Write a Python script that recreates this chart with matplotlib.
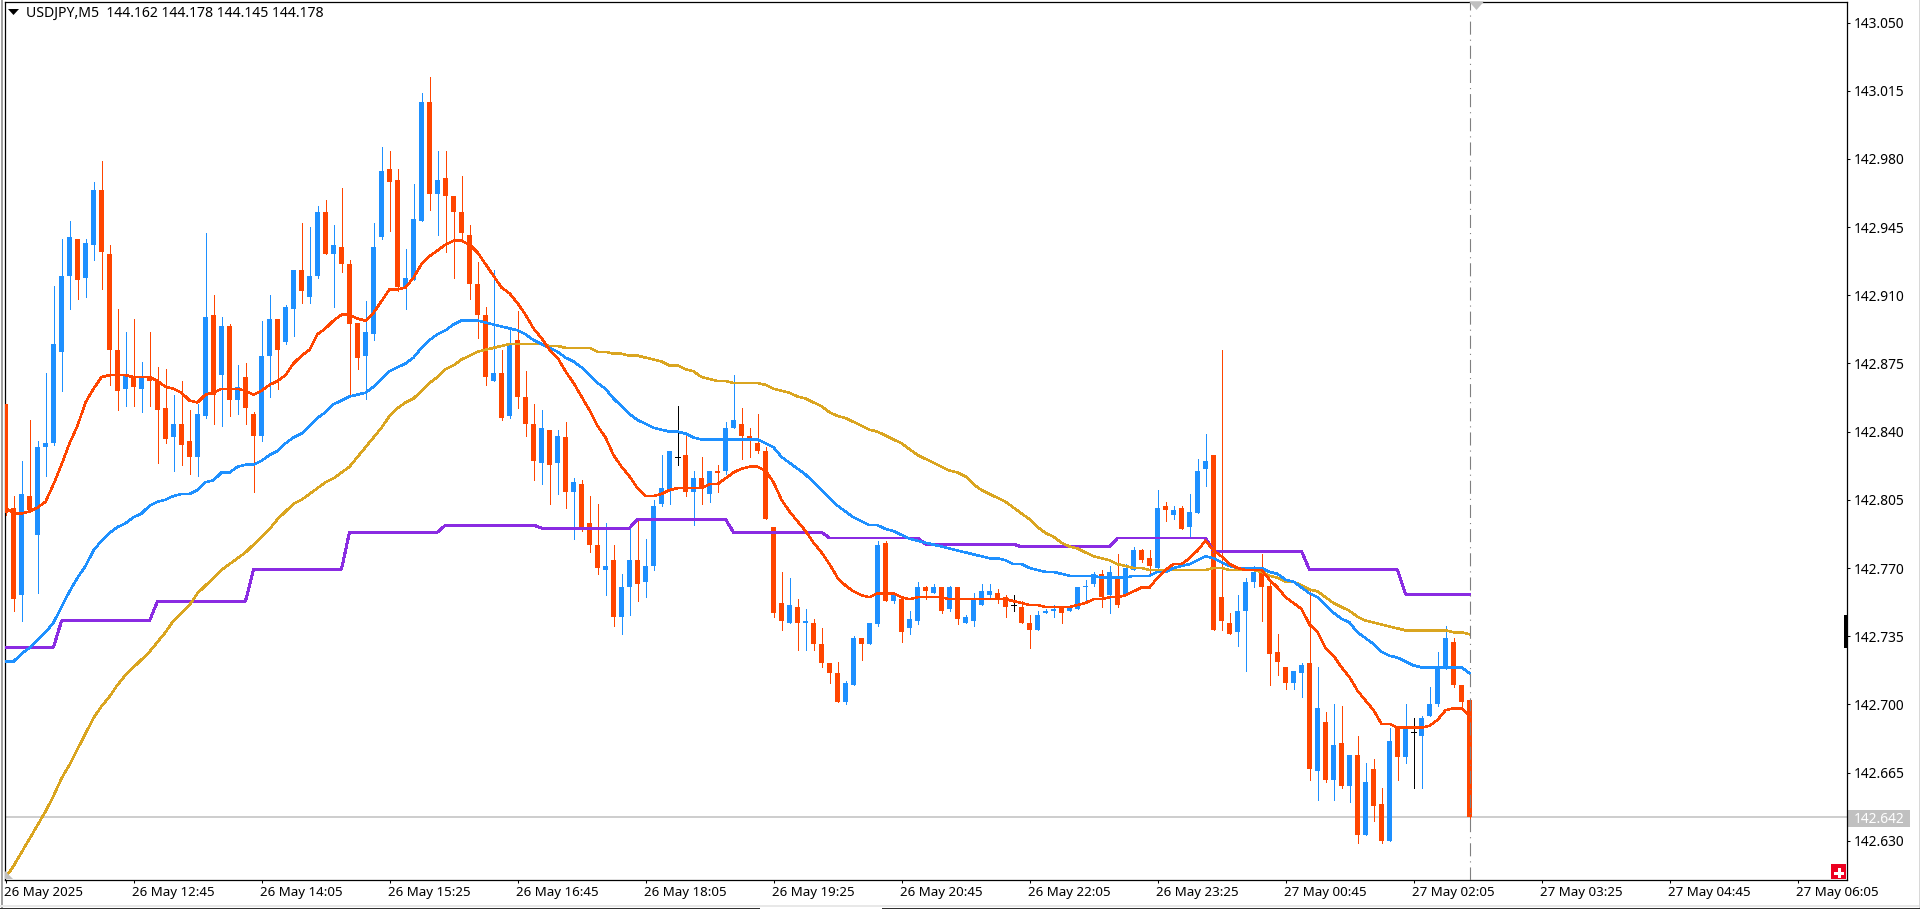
import numpy as np
import matplotlib
matplotlib.use("Agg")
import matplotlib.pyplot as plt
from matplotlib.lines import Line2D
from matplotlib.patches import Polygon, Rectangle
from matplotlib.transforms import ScaledTranslation

# USDJPY M5 candles, prices in thousandths above 142.000
highs = [854,807,825,846,835,870,915,939,948,939,
    939,968,979,936,903,891,898,876,891,873,
    872,859,866,851,854,942,910,899,895,874,
    875,850,897,910,898,905,923,947,945,956,
    959,946,965,928,896,907,947,986,984,975,
    934,967,1014,1022,984,984,961,971,946,927,
    904,923,882,893,902,871,854,851,841,841,
    845,816,815,807,803,793,782,767,790,794,
    785,805,828,830,853,838,820,827,820,823,
    845,869,852,842,849,832,791,768,765,754,
    749,744,739,721,722,712,735,734,742,784,
    784,756,754,748,763,761,762,760,761,760,
    746,757,762,762,759,756,756,753,746,748,
    749,751,750,750,760,764,768,769,771,777,
    772,781,780,779,810,804,802,802,808,826,
    839,828,882,747,756,765,771,777,763,736,
    719,717,721,758,719,696,700,699,674,684,
    670,672,657,688,689,700,693,694,709,727,
    740,734,710,702]
lows = [797,748,743,799,757,817,833,861,903,908,
    909,928,913,864,851,853,853,850,853,824,
    834,820,823,818,817,847,844,843,848,849,
    844,809,835,858,862,885,889,906,906,919,
    931,904,922,858,872,857,887,939,943,912,
    903,918,948,954,941,932,919,939,908,888,
    864,866,846,847,852,838,815,813,803,808,
    801,785,789,778,767,756,740,736,746,753,
    755,769,802,803,823,807,792,803,804,809,
    818,842,826,827,829,795,745,738,742,728,
    728,728,719,711,701,700,710,723,731,740,
    753,752,732,736,741,754,757,747,748,741,
    742,740,751,754,752,745,748,742,729,738,
    747,745,742,748,749,752,761,750,747,750,
    756,769,773,767,770,794,795,790,786,798,
    812,738,738,736,730,717,760,743,710,715,
    708,708,704,661,651,660,651,657,650,629,
    633,640,629,630,661,670,657,657,694,699,
    718,709,698,638]
opens = [854,801,756,807,787,832,834,881,920,939,
    919,936,964,931,882,862,868,862,868,866,
    852,837,844,835,827,848,900,869,894,856,
    868,849,838,879,898,886,903,923,909,920,
    953,931,935,926,896,879,890,940,975,969,
    914,918,948,1009,962,970,961,953,941,916,
    900,866,870,848,887,858,844,824,841,824,
    837,809,813,793,782,769,774,745,760,774,
    763,771,803,810,827,828,809,816,808,820,
    820,842,844,838,834,830,791,752,742,750,
    742,742,731,721,716,701,710,734,731,741,
    783,753,754,739,743,760,757,760,749,760,
    742,743,751,756,757,755,751,750,742,738,
    747,748,750,748,749,760,762,767,756,765,
    756,769,779,775,770,802,797,801,791,798,
    821,828,755,742,737,748,763,770,761,727,
    719,711,716,721,666,691,661,680,658,674,
    633,667,649,630,688,673,686,684,694,700,
    719,732,710,702]
closes = [798,754,808,800,832,834,885,920,940,918,
    937,964,932,882,861,869,863,868,866,851,
    836,844,833,827,849,899,859,894,856,863,
    852,838,879,898,882,904,923,912,920,953,
    931,936,926,895,878,891,935,974,968,914,
    919,949,1009,962,969,961,953,942,916,900,
    868,870,847,885,858,844,825,842,823,838,
    809,814,790,782,770,771,745,760,774,762,
    771,802,811,830,827,809,816,811,820,819,
    842,846,838,835,830,795,747,743,751,742,
    743,731,721,716,701,711,734,731,742,782,
    753,756,737,744,760,758,760,748,760,744,
    745,754,758,758,754,750,751,742,738,746,
    748,749,747,750,760,761,767,755,768,751,
    770,779,774,771,801,800,800,790,799,820,
    825,738,743,736,748,763,768,760,726,722,
    711,717,720,667,698,661,679,658,674,633,
    660,648,630,681,673,688,686,693,700,719,
    734,710,701,642]

# moving averages, same units
fast_ma = [801,798,798,799,801,804,813,823,834,843,
    855,862,868,869,869,869,868,868,868,866,
    863,862,860,856,855,859,860,862,862,862,
    861,859,861,864,866,869,875,879,882,890,
    893,897,900,900,898,897,901,907,913,913,
    914,919,926,930,933,936,938,938,936,932,
    926,920,914,911,906,900,893,888,882,878,
    871,865,858,851,843,837,828,822,817,811,
    807,807,808,810,811,811,811,811,813,813,
    816,819,821,822,822,820,814,805,799,794,
    789,783,778,772,765,761,758,756,755,757,
    757,757,755,754,755,755,755,755,754,754,
    754,754,754,754,754,754,753,752,751,751,
    750,750,750,750,751,752,754,754,755,755,
    756,758,760,760,765,769,772,772,775,779,
    784,779,776,772,770,769,769,769,764,760,
    755,752,749,741,737,729,725,719,714,707,
    702,697,690,690,688,688,688,688,689,692,
    697,698,698,694]
mid_ma = [722,722,726,729,733,737,742,750,758,765,
    771,779,784,788,791,793,796,798,802,804,
    805,807,808,808,810,814,815,819,819,822,
    823,823,825,828,830,834,837,839,843,847,
    850,854,856,858,859,860,863,867,871,873,
    875,878,883,887,890,892,895,897,897,897,
    896,895,894,893,892,890,887,885,883,881,
    878,876,873,869,865,862,857,853,849,846,
    844,842,841,840,840,839,837,836,836,836,
    836,836,836,836,836,834,832,827,824,821,
    818,814,810,806,802,799,796,794,792,792,
    790,789,787,785,784,783,782,781,780,779,
    778,777,776,775,775,774,772,772,770,769,
    768,768,767,766,766,766,766,765,765,765,
    765,766,766,766,768,768,770,771,772,774,
    776,775,773,771,770,770,770,770,768,767,
    764,763,760,757,755,751,747,744,742,737,
    734,731,727,725,724,722,720,719,719,719,
    719,719,719,716]
slow_ma = [611,617,624,631,638,645,653,662,669,677,
    685,693,699,704,710,715,719,723,727,732,
    737,743,747,751,757,761,765,769,772,775,
    778,782,786,790,795,799,803,805,808,811,
    814,816,819,822,827,832,837,842,848,852,
    855,857,861,865,868,872,874,877,879,881,
    882,883,884,885,885,885,885,885,884,884,
    883,883,883,883,881,881,880,880,879,879,
    878,877,876,874,874,872,871,868,867,866,
    866,865,865,865,865,864,862,861,860,858,
    857,855,853,850,848,847,845,843,841,840,
    838,836,834,831,828,826,824,822,820,819,
    817,813,810,808,806,804,801,798,795,791,
    788,786,783,781,780,778,776,775,774,772,
    771,770,770,769,769,769,769,769,769,769,
    769,770,770,769,769,769,769,768,766,765,
    763,763,761,759,758,755,752,750,748,745,
    743,742,741,740,739,738,738,738,738,738,
    738,737,737,736]

# higher timeframe average, flat between steps
step_bars = [0,6,7,18,19,30,31,42,43,54,55,66,67,78,79,90,91,102,103,114,115,126,127,138,139,150,151,162,163,174,175,183]
step_ma = [729.4,729.4,742.8,742.8,753,753,769.4,769.4,788.4,788.4,792,792,790.5,790.5,795,795,
    788.4,788.4,785.4,785.4,782.3,782.3,780.8,780.8,785.4,785.4,778.7,778.7,769,769,756.6,756.6]

tick_prices = [142.630,142.665,142.700,142.735,142.770,142.805,142.840,142.875,142.910,142.945,142.980,143.015,143.050]
time_labels = ["26 May 2025","26 May 12:45","26 May 14:05","26 May 15:25","26 May 16:45","26 May 18:05",
    "26 May 19:25","26 May 20:45","26 May 22:05","26 May 23:25","27 May 00:45","27 May 02:05",
    "27 May 03:25","27 May 04:45","27 May 06:05"]
bid_price = 142.642
header = "USDJPY,M5  144.162 144.178 144.145 144.178"

UP = "#1E90FF"
DOWN = "#FF4500"
FONT = "Noto Sans"
W, H = 1920, 910

plt.rcParams["lines.scale_dashes"] = False
plt.rcParams["font.family"] = FONT

def to_price(a):
    return np.array(a) / 1000 + 142

def fx(x):
    return x / W

def fy(y):
    return 1 - y / H

fig = plt.figure(figsize=(W / 100, H / 100), dpi=100, facecolor="white")
ax = fig.add_axes([fx(4.5), fy(879.5), fx(1842), 878 / H])
# 8 px per bar, bar centres on pixel centres
ax.set_xlim(-0.125, 230.125)
ax.set_ylim(142.6101, 143.0608)

o, h, l, c = to_price(opens), to_price(highs), to_price(lows), to_price(closes)
bars = np.arange(len(o))
colors = np.where(c > o, UP, np.where(c < o, DOWN, "black"))

ax.axhline(bid_price, color="#C0C0C0", lw=1.1, zorder=1)
ax.vlines(bars, l, h, colors=colors, lw=0.72, antialiased=False, zorder=2)
ax.bar(bars, np.abs(c - o), bottom=np.minimum(o, c), width=5 / 8, color=colors, linewidth=0,
       antialiased=False, zorder=3)
doji = c == o
ax.hlines(c[doji], bars[doji] - 0.3, bars[doji] + 0.3, colors="black", lw=0.72, antialiased=False, zorder=3)

ax.plot(step_bars, to_price(step_ma), color="#8A2BE2", lw=1.44, antialiased=False, zorder=4)
ax.plot(bars, to_price(slow_ma), color="#DAA520", lw=1.1, antialiased=False, zorder=5)
ax.plot(bars, to_price(mid_ma), color=UP, lw=1.1, antialiased=False, zorder=6)
ax.plot(bars, to_price(fast_ma), color=DOWN, lw=1.1, antialiased=False, zorder=7)

# dash-dot marker on the last bar
ax.axvline(183, color="#808080", lw=0.8, linestyle=(0, (9.4, 3.6, 0.8, 3.6)), zorder=8)

ax.yaxis.tick_right()
ax.set_yticks(tick_prices)
ax.set_yticklabels(["%.3f" % p for p in tick_prices])
ax.set_xticks(np.arange(len(time_labels)) * 16)
ax.set_xticklabels(time_labels, ha="left")
ax.tick_params(axis="y", length=2.5, width=0.75, pad=2.5, labelsize=9.9, colors="black")
ax.tick_params(axis="x", length=2.5, width=0.75, pad=2.5, labelsize=9.6, colors="black")
nudge = ScaledTranslation(-1.5 / 100, 0, fig.dpi_scale_trans)
for lbl in ax.get_xticklabels():
    lbl.set_transform(lbl.get_transform() + nudge)
for s in ax.spines.values():
    s.set_linewidth(0.9)
    s.set_color("black")

ax.annotate("%.3f" % bid_price, xy=(1, bid_price), xycoords=("axes fraction", "data"), xytext=(4.9, 0),
            textcoords="offset points", va="center_baseline", ha="left", color="white", fontsize=9.9, zorder=10,
            annotation_clip=False)

# terminal furniture around the plot area, placed in figure pixels
def rect(x0, y0, x1, y1, color, zorder=9):
    fig.add_artist(Rectangle((fx(x0), fy(y1)), fx(x1 - x0), (y1 - y0) / H, facecolor=color, edgecolor="none",
                             transform=fig.transFigure, zorder=zorder))

def tri(points, color):
    fig.add_artist(Polygon([(fx(x), fy(y)) for x, y in points], closed=True, facecolor=color, edgecolor="none",
                           transform=fig.transFigure, zorder=9))

def seg(x0, y0, x1, y1, color, lw=0.75):
    fig.add_artist(Line2D([fx(x0), fx(x1)], [fy(y0), fy(y1)], color=color, lw=lw, transform=fig.transFigure,
                          antialiased=False, zorder=10))

rect(1, 0, 2.8, 908, "#A0A0A0")
rect(0, 905, 1920, 907, "#E8E8E8")
rect(0, 907.5, 760, 909, "#303030")
rect(882, 907.5, 1920, 909, "#303030")
rect(1918.5, 0, 1920, 908, "#D8D8D8")
rect(1848, 810, 1910, 827, "#C0C0C0", zorder=-1)
rect(1844, 615, 1848, 648, "black")
rect(1831, 864, 1846, 879, "#EC0020")
seg(1835, 872.5, 1842, 872.5, "white", 1)
seg(1838.5, 869, 1838.5, 876, "white", 1)
tri([(1469, 1.5), (1484, 1.5), (1476.5, 10)], "#C0C0C0")
tri([(5, 871), (5, 879), (13, 879)], "#C0C0C0")
tri([(8, 9), (19, 9), (13.5, 15)], "black")

fig.text(fx(26), fy(13), header, fontsize=10.1, color="black", va="center", ha="left", family=FONT)

fig.savefig("out.png", dpi=100)
